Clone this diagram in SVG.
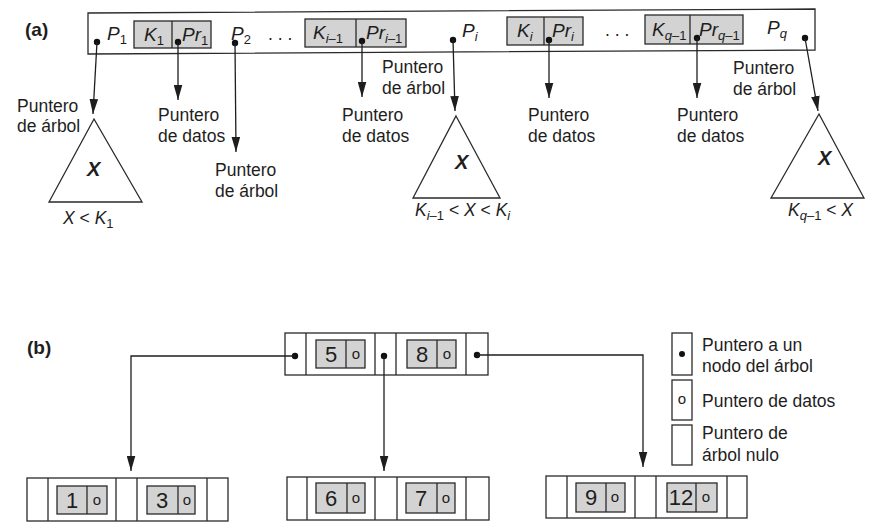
<svg xmlns="http://www.w3.org/2000/svg" width="870" height="529" viewBox="0 0 870 529">
<defs>
<marker id="ah" markerUnits="userSpaceOnUse" markerWidth="15" markerHeight="9" refX="15" refY="4.5" orient="auto"><path d="M0,0.2 L15,4.5 L0,8.8 z" fill="#1e1e1e"/></marker>
<style>
text{font-family:"Liberation Sans",Arial,sans-serif;fill:#1e1e1e;font-size:17.5px}
.it{font-style:italic}
.big{font-size:19px}
.up{font-style:normal}
.sub{font-size:13px}
.bold{font-weight:bold;font-size:19px}
.bx{font-weight:bold;font-style:italic;font-size:20px}
.num{font-size:22px;text-anchor:middle}
.o{font-size:15px;text-anchor:middle}
.box{fill:none;stroke:#2a2a2a;stroke-width:1.3}
.key{fill:#d3d3d3;stroke:#2a2a2a;stroke-width:1.3}
.ln{fill:none;stroke:#2a2a2a;stroke-width:1.3}
.tri{fill:#fff;stroke:#2a2a2a;stroke-width:1.3}
.con{fill:none;stroke:#1e1e1e;stroke-width:1.3;marker-end:url(#ah)}
.dot{fill:#111}
</style>
</defs>
<rect width="870" height="529" fill="#fff"/>

<!-- ===== Part (a) ===== -->
<text class="bold" x="25" y="36">(a)</text>

<g id="nodeA">
<path class="box" d="M88,13 L815,9 L815,50 L88,54 Z"/>
<text class="it big" x="107" y="40">P<tspan class="sub up" dy="4">1</tspan></text>
<circle class="dot" cx="97" cy="42" r="3.2"/>
<rect class="key" x="134" y="21" width="77" height="27"/>
<line class="ln" x1="172" y1="21" x2="172" y2="48"/>
<text class="it big" x="144" y="41">K<tspan class="sub up" dy="4">1</tspan></text>
<text class="it big" x="182" y="41">Pr<tspan class="sub up" dy="4">1</tspan></text>
<circle class="dot" cx="178" cy="42" r="3.2"/>
<text class="it big" x="231" y="40">P<tspan class="sub up" dy="4">2</tspan></text>
<circle class="dot" cx="235" cy="43" r="3.2"/>
<text x="268" y="40">. . .</text>
<rect class="key" x="305" y="19" width="101" height="28"/>
<line class="ln" x1="356" y1="19" x2="356" y2="47"/>
<text class="it big" x="313" y="39">K<tspan class="sub" dy="4">i</tspan><tspan class="sub up">–1</tspan></text>
<text class="it big" x="366" y="39">Pr<tspan class="sub" dy="4">i</tspan><tspan class="sub up">–1</tspan></text>
<circle class="dot" cx="362" cy="41" r="3.2"/>
<text class="it big" x="462" y="37">P<tspan class="sub" dy="4">i</tspan></text>
<circle class="dot" cx="453" cy="40" r="3.2"/>
<rect class="key" x="507" y="17" width="76" height="28"/>
<line class="ln" x1="544" y1="17" x2="544" y2="45"/>
<text class="it big" x="517" y="37">K<tspan class="sub" dy="4">i</tspan></text>
<text class="it big" x="552" y="37">Pr<tspan class="sub" dy="4">i</tspan></text>
<circle class="dot" cx="549" cy="40" r="3.2"/>
<text x="605" y="36">. . .</text>
<rect class="key" x="645" y="15" width="98" height="29"/>
<line class="ln" x1="690" y1="15" x2="690" y2="44"/>
<text class="it big" x="652" y="36">K<tspan class="sub" dy="4">q</tspan><tspan class="sub up">–1</tspan></text>
<text class="it big" x="699" y="36">Pr<tspan class="sub" dy="4">q</tspan><tspan class="sub up">–1</tspan></text>
<circle class="dot" cx="697" cy="38" r="3.2"/>
<text class="it big" x="767" y="34">P<tspan class="sub" dy="4">q</tspan></text>
<circle class="dot" cx="805" cy="38" r="3.2"/>
</g>

<g id="tree1">
<path class="tri" d="M94,119 L142,202 L49,202 Z"/>
<text class="bx" x="87" y="176">X</text>
<text x="63" y="224"><tspan class="it">X</tspan> &lt; <tspan class="it">K</tspan><tspan class="sub" dy="4">1</tspan></text>
</g>
<g id="tree2">
<path class="tri" d="M456,116 L500,198 L413,198 Z"/>
<text class="bx" x="455" y="169">X</text>
<text x="415" y="216"><tspan class="it">K</tspan><tspan class="sub it" dy="4">i</tspan><tspan class="sub">–1</tspan><tspan dy="-4"> &lt; </tspan><tspan class="it">X</tspan> &lt; <tspan class="it">K</tspan><tspan class="sub it" dy="4">i</tspan></text>
</g>
<g id="tree3">
<path class="tri" d="M819,114 L864,198 L771,198 Z"/>
<text class="bx" x="818" y="165">X</text>
<text x="788" y="216"><tspan class="it">K</tspan><tspan class="sub it" dy="4">q</tspan><tspan class="sub">–1</tspan><tspan dy="-4"> &lt; </tspan><tspan class="it">X</tspan></text>
</g>

<g id="labelsA">
<text x="17" y="112">Puntero</text><text x="17" y="132">de árbol</text>
<text x="158" y="121">Puntero</text><text x="158" y="142">de datos</text>
<text x="215" y="176">Puntero</text><text x="215" y="197">de árbol</text>
<text x="382" y="73">Puntero</text><text x="382" y="94">de árbol</text>
<text x="342" y="121">Puntero</text><text x="342" y="142">de datos</text>
<text x="528" y="121">Puntero</text><text x="528" y="142">de datos</text>
<text x="677" y="121">Puntero</text><text x="677" y="142">de datos</text>
<text x="733" y="74">Puntero</text><text x="733" y="95">de árbol</text>
</g>

<g id="connectorsA">
<line class="con" x1="97" y1="42" x2="93" y2="114"/>
<line class="con" x1="178" y1="42" x2="178" y2="100"/>
<line class="con" x1="235" y1="43" x2="236" y2="152"/>
<line class="con" x1="362" y1="41" x2="362" y2="97"/>
<line class="con" x1="453" y1="40" x2="455" y2="111"/>
<line class="con" x1="549" y1="40" x2="549" y2="98"/>
<line class="con" x1="697" y1="38" x2="697" y2="98"/>
<line class="con" x1="805" y1="38" x2="818" y2="111"/>
</g>

<!-- ===== Part (b) ===== -->
<text class="bold" x="27" y="354">(b)</text>

<g id="root">
<rect class="box" x="285" y="333" width="203" height="42"/>
<line class="ln" x1="306" y1="333" x2="306" y2="375"/>
<line class="ln" x1="375" y1="333" x2="375" y2="375"/>
<line class="ln" x1="396" y1="333" x2="396" y2="375"/>
<line class="ln" x1="466" y1="333" x2="466" y2="375"/>
<rect class="key" x="316" y="340" width="49" height="28"/>
<line class="ln" x1="346" y1="340" x2="346" y2="368"/>
<text class="num" x="331" y="362">5</text><text class="o" x="356" y="359">o</text>
<rect class="key" x="407" y="340" width="49" height="28"/>
<line class="ln" x1="437" y1="340" x2="437" y2="368"/>
<text class="num" x="422" y="362">8</text><text class="o" x="447" y="359">o</text>
<circle class="dot" cx="295" cy="356" r="3.2"/>
<circle class="dot" cx="384" cy="356" r="3.2"/>
<circle class="dot" cx="477" cy="355" r="3.2"/>
</g>

<g id="leafLeft">
<rect class="box" x="27" y="478" width="201" height="43"/>
<line class="ln" x1="48" y1="478" x2="48" y2="521"/>
<line class="ln" x1="116" y1="478" x2="116" y2="521"/>
<line class="ln" x1="137" y1="478" x2="137" y2="521"/>
<line class="ln" x1="207" y1="478" x2="207" y2="521"/>
<rect class="key" x="57" y="486" width="50" height="28"/>
<line class="ln" x1="87" y1="486" x2="87" y2="514"/>
<text class="num" x="72" y="508">1</text><text class="o" x="97" y="505">o</text>
<rect class="key" x="147" y="486" width="48" height="28"/>
<line class="ln" x1="178" y1="486" x2="178" y2="514"/>
<text class="num" x="162" y="508">3</text><text class="o" x="187" y="505">o</text>
</g>

<g id="leafMid">
<rect class="box" x="287" y="477" width="202" height="43"/>
<line class="ln" x1="307" y1="477" x2="307" y2="520"/>
<line class="ln" x1="375" y1="477" x2="375" y2="520"/>
<line class="ln" x1="397" y1="477" x2="397" y2="520"/>
<line class="ln" x1="466" y1="477" x2="466" y2="520"/>
<rect class="key" x="316" y="483" width="49" height="30"/>
<line class="ln" x1="347" y1="483" x2="347" y2="513"/>
<text class="num" x="331" y="506">6</text><text class="o" x="356" y="503">o</text>
<rect class="key" x="406" y="483" width="49" height="30"/>
<line class="ln" x1="437" y1="483" x2="437" y2="513"/>
<text class="num" x="421" y="506">7</text><text class="o" x="446" y="503">o</text>
</g>

<g id="leafRight">
<rect class="box" x="546" y="476" width="201" height="42"/>
<line class="ln" x1="567" y1="476" x2="567" y2="518"/>
<line class="ln" x1="635" y1="476" x2="635" y2="518"/>
<line class="ln" x1="656" y1="476" x2="656" y2="518"/>
<line class="ln" x1="727" y1="476" x2="727" y2="518"/>
<rect class="key" x="576" y="483" width="49" height="29"/>
<line class="ln" x1="606" y1="483" x2="606" y2="512"/>
<text class="num" x="591" y="505">9</text><text class="o" x="615" y="502">o</text>
<rect class="key" x="667" y="483" width="50" height="29"/>
<line class="ln" x1="696" y1="483" x2="696" y2="512"/>
<text class="num" x="681" y="505">12</text><text class="o" x="706" y="502">o</text>
</g>

<g id="connectorsB">
<polyline class="con" points="295,356 131,356 131,471"/>
<line class="con" x1="384" y1="356" x2="384" y2="471"/>
<polyline class="con" points="477,355 643,355 643,467"/>
</g>

<g id="legend">
<rect class="box" x="672" y="333" width="20" height="42"/>
<circle class="dot" cx="682" cy="354" r="3"/>
<rect class="box" x="672" y="380" width="20" height="40"/>
<text class="o" x="682" y="404">o</text>
<rect class="box" x="672" y="425" width="20" height="40"/>
<text x="702" y="351">Puntero a un</text>
<text x="702" y="372">nodo del árbol</text>
<text x="702" y="407">Puntero de datos</text>
<text x="702" y="439">Puntero de</text>
<text x="702" y="461">árbol nulo</text>
</g>
</svg>
